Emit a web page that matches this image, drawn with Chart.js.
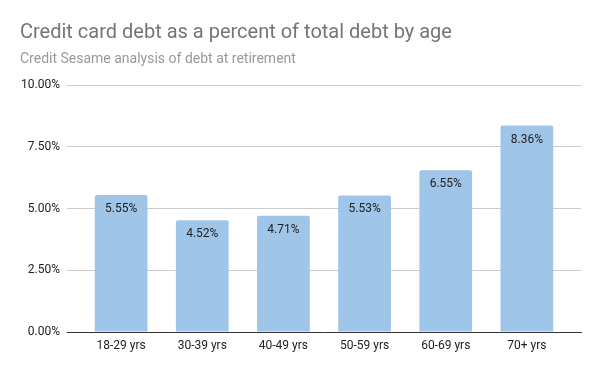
<!DOCTYPE html>
<html>
<head>
<meta charset="utf-8">
<script src="https://cdn.jsdelivr.net/npm/chart.js@4/dist/chart.umd.min.js"></script>
<style>
html,body{margin:0;padding:0;background:#fff;}
#wrap{width:600px;height:371px;position:relative;}
</style>
</head>
<body>
<div id="wrap"><canvas id="c" width="600" height="371"></canvas></div>
<script>
const titleText = "Credit card debt as a percent of total debt by age";
const subtitleText = "Credit Sesame analysis of debt at retirement";
const categories = ["18-29 yrs", "30-39 yrs", "40-49 yrs", "50-59 yrs", "60-69 yrs", "70+ yrs"];
const values = [5.55, 4.52, 4.71, 5.53, 6.55, 8.36];
const yTicks = [0, 2.5, 5, 7.5, 10];

const FONT = "Roboto, 'Liberation Sans', Arial, sans-serif";

const titlePlugin = {
  id: 'titles',
  afterDraw(chart) {
    const ctx = chart.ctx;
    ctx.save();
    ctx.textAlign = 'left';
    ctx.textBaseline = 'alphabetic';
    ctx.fillStyle = '#757575';
    ctx.font = '20px ' + FONT;
    ctx.fillText(titleText, 20, 38);
    ctx.fillStyle = '#999999';
    ctx.font = '14px ' + FONT;
    ctx.fillText(subtitleText, 20, 63);
    ctx.restore();
  }
};

const labelPlugin = {
  id: 'barLabels',
  afterDatasetsDraw(chart) {
    const ctx = chart.ctx;
    const meta = chart.getDatasetMeta(0);
    ctx.save();
    ctx.font = '12px ' + FONT;
    ctx.fillStyle = '#222222';
    ctx.textAlign = 'center';
    ctx.textBaseline = 'middle';
    meta.data.forEach((bar, i) => {
      ctx.fillText(values[i].toFixed(2) + '%', bar.x, bar.y + 14);
    });
    ctx.restore();
  }
};

new Chart(document.getElementById('c'), {
  type: 'bar',
  data: {
    datasets: [{
      data: values.map((v, i) => ({x: i, y: v})),
      backgroundColor: '#9fc5e8',
      borderRadius: 2,
      borderSkipped: 'bottom',
      barPercentage: 0.65,
      categoryPercentage: 1
    }]
  },
  options: {
    responsive: false,
    animation: false,
    events: [],
    layout: {padding: {top: 85, right: 19, bottom: 0, left: 0}},
    plugins: {legend: {display: false}, tooltip: {enabled: false}},
    scales: {
      x: {
        type: 'linear',
        offset: false,
        min: -0.6667,
        max: 5.6667,
        afterBuildTicks: s => { s.ticks = categories.map((_, i) => ({value: i})); },
        afterFit: s => { s.height = 39; },
        grid: {display: false, drawTicks: false, offset: false},
        border: {display: true, color: '#333333', width: 1},
        ticks: {
          autoSkip: false,
          maxRotation: 0,
          padding: 7,
          color: '#222222',
          font: {family: FONT, size: 12},
          callback: v => categories[v]
        }
      },
      y: {
        min: 0,
        max: 10,
        afterBuildTicks: s => { s.ticks = yTicks.map(v => ({value: v})); },
        afterFit: s => { s.width = 67; },
        grid: {
          color: c => c.tick && c.tick.value === 0 ? 'rgba(0,0,0,0)' : '#cccccc',
          drawTicks: false
        },
        border: {display: false},
        ticks: {
          padding: 7,
          color: '#222222',
          font: {family: FONT, size: 12},
          callback: v => v.toFixed(2) + '%'
        }
      }
    }
  },
  plugins: [titlePlugin, labelPlugin]
});
</script>
</body>
</html>
